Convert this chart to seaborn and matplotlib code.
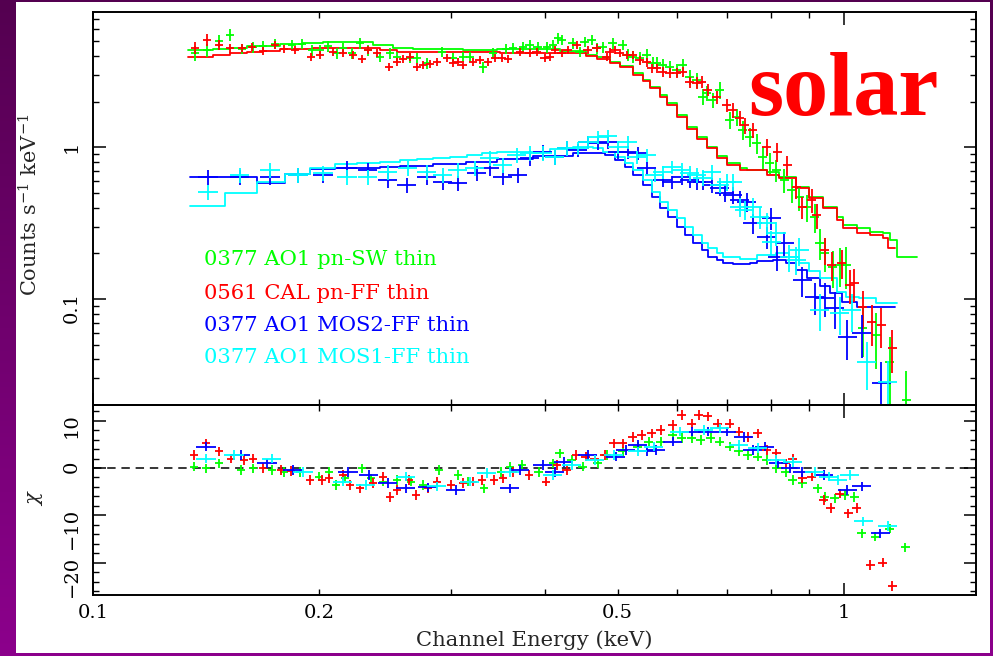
import numpy as np
import pandas as pd
import matplotlib
matplotlib.use("Agg")
import matplotlib.pyplot as plt
import seaborn as sns
from matplotlib.colors import LinearSegmentedColormap
from matplotlib.patches import Rectangle
from matplotlib.ticker import FixedLocator, MultipleLocator, FixedFormatter, NullFormatter

# ------------------------------------------------------------------ data
labels = ["0377 AO1 pn-SW thin", "0561 CAL pn-FF thin",
          "0377 AO1 MOS2-FF thin", "0377 AO1 MOS1-FF thin"]
colors = ["#00ff00", "#ff0000", "#0000ff", "#00ffff"]

# green: 0377 AO1 pn-SW (energy keV, counts/s/keV, relative error)
green_E = [0.1367, 0.1419, 0.1472, 0.1522, 0.1579, 0.1633, 0.1684, 0.1747, 0.1841, 0.1898,
           0.1957, 0.2006, 0.2056, 0.2113, 0.2152, 0.2213, 0.2267, 0.2323, 0.2411, 0.2486,
           0.2540, 0.2643, 0.2700, 0.2784, 0.2915, 0.3015, 0.3109, 0.3177, 0.3306, 0.3409,
           0.3550, 0.3625, 0.3738, 0.3818, 0.3913, 0.4023, 0.4098, 0.4161, 0.4212, 0.4356,
           0.4451, 0.4519, 0.4617, 0.4688, 0.4775, 0.4924, 0.5078, 0.5157, 0.5236, 0.5350,
           0.5466, 0.5568, 0.5636, 0.5741, 0.5866, 0.5993, 0.6104, 0.6236, 0.6372, 0.6490,
           0.6570, 0.6692, 0.6837, 0.7050, 0.7203, 0.7336, 0.7495, 0.7658, 0.7799, 0.7969,
           0.8141, 0.8342, 0.8525, 0.8736, 0.8926, 0.9148, 0.9290, 0.9434, 0.9668, 0.9879,
           1.009, 1.060, 1.106, 1.152, 1.213]
green_C = [4.18, 4.38, 5.02, 5.50, 4.45, 4.58, 4.65, 4.80, 4.73, 4.80,
           4.38, 4.38, 4.65, 4.18, 4.51, 4.18, 4.87, 4.38, 3.94, 4.18,
           3.94, 3.88, 3.88, 3.59, 4.25, 3.88, 3.94, 3.94, 3.38, 4.18,
           4.45, 4.51, 4.58, 4.73, 4.58, 4.58, 4.73, 5.25, 5.10, 4.87,
           4.25, 4.95, 5.10, 4.51, 4.58, 4.87, 4.73, 4.06, 3.94, 3.88,
           4.06, 3.59, 3.59, 3.49, 3.38, 3.23, 3.49, 2.91, 2.78, 2.15,
           2.28, 2.05, 2.39, 1.51, 1.58, 1.30, 1.17, 1.07, 0.863, 0.788,
           0.708, 0.609, 0.523, 0.470, 0.404, 0.347, 0.234, 0.201, 0.163, 0.168,
           0.168, 0.0644, 0.0579, 0.0384, 0.0216]
green_err = [0.11, 0.10, 0.09, 0.09, 0.08, 0.08, 0.08, 0.08, 0.08, 0.08,
             0.08, 0.08, 0.08, 0.08, 0.08, 0.08, 0.08, 0.08, 0.08, 0.08,
             0.08, 0.08, 0.08, 0.08, 0.08, 0.08, 0.08, 0.08, 0.08, 0.08,
             0.08, 0.08, 0.08, 0.08, 0.08, 0.08, 0.08, 0.08, 0.08, 0.08,
             0.08, 0.08, 0.08, 0.08, 0.08, 0.08, 0.08, 0.09, 0.09, 0.09,
             0.09, 0.09, 0.09, 0.10, 0.10, 0.10, 0.10, 0.11, 0.11, 0.12,
             0.12, 0.12, 0.13, 0.13, 0.13, 0.14, 0.14, 0.15, 0.16, 0.16,
             0.17, 0.18, 0.18, 0.19, 0.20, 0.21, 0.23, 0.25, 0.27, 0.29,
             0.31, 0.36, 0.40, 0.47, 0.55]

# red: 0561 CAL pn-FF
red_E = [0.1367, 0.1419, 0.1472, 0.1522, 0.1579, 0.1628, 0.1684, 0.1747, 0.1796, 0.1858,
         0.1951, 0.2006, 0.2087, 0.2152, 0.2219, 0.2281, 0.2323, 0.2389, 0.2478, 0.2540,
         0.2587, 0.2643, 0.2700, 0.2750, 0.2810, 0.2871, 0.2960, 0.3015, 0.3062, 0.3109,
         0.3206, 0.3275, 0.3357, 0.3430, 0.3505, 0.3570, 0.3704, 0.3818, 0.3901, 0.3998,
         0.4060, 0.4123, 0.4212, 0.4290, 0.4410, 0.4561, 0.4688, 0.4834, 0.4879, 0.4955,
         0.5031, 0.5141, 0.5236, 0.5350, 0.5466, 0.5551, 0.5636, 0.5741, 0.5866, 0.5993,
         0.6104, 0.6236, 0.6372, 0.6470, 0.6590, 0.6774, 0.6985, 0.7115, 0.7269, 0.7382,
         0.7564, 0.7896, 0.8166, 0.8420, 0.8656, 0.8817, 0.9064, 0.9204, 0.9434, 0.9638,
         0.9939, 1.019, 1.034, 1.060, 1.090, 1.123, 1.162]
red_C = [4.51, 5.10, 4.73, 4.51, 4.51, 4.58, 4.31, 4.73, 4.45, 4.38,
         3.94, 4.06, 4.25, 4.18, 4.06, 3.82, 4.38, 4.18, 3.38, 3.65,
         3.82, 3.94, 3.38, 3.49, 3.54, 3.65, 3.88, 3.59, 3.65, 3.49,
         3.65, 3.76, 3.65, 3.88, 3.88, 3.82, 4.25, 4.18, 4.25, 3.88,
         3.94, 4.38, 4.18, 4.38, 4.73, 4.38, 4.51, 3.94, 4.25, 4.38,
         4.18, 4.06, 4.06, 3.76, 3.65, 3.33, 3.33, 3.14, 3.09, 3.09,
         3.14, 2.69, 2.65, 2.69, 2.39, 2.15, 1.90, 1.76, 1.56, 1.40,
         1.30, 1.00, 0.931, 0.764, 0.547, 0.404, 0.449, 0.358, 0.210, 0.168,
         0.173, 0.124, 0.127, 0.0886, 0.0705, 0.0674, 0.0475]
red_err = [0.09, 0.09, 0.08, 0.07, 0.06, 0.06, 0.06, 0.06, 0.06, 0.06,
           0.06, 0.06, 0.06, 0.06, 0.06, 0.06, 0.06, 0.06, 0.06, 0.06,
           0.06, 0.06, 0.06, 0.06, 0.06, 0.06, 0.06, 0.06, 0.06, 0.06,
           0.06, 0.06, 0.06, 0.06, 0.06, 0.06, 0.06, 0.06, 0.06, 0.06,
           0.06, 0.06, 0.06, 0.06, 0.06, 0.06, 0.06, 0.06, 0.06, 0.06,
           0.06, 0.06, 0.06, 0.07, 0.07, 0.07, 0.07, 0.07, 0.08, 0.08,
           0.08, 0.08, 0.09, 0.09, 0.09, 0.10, 0.10, 0.11, 0.11, 0.12,
           0.12, 0.13, 0.14, 0.15, 0.16, 0.17, 0.18, 0.19, 0.20, 0.22,
           0.22, 0.25, 0.25, 0.28, 0.30, 0.30, 0.32]

# blue: 0377 AO1 MOS2-FF
blue_E = [0.1423, 0.1569, 0.1721, 0.1875, 0.2025, 0.2179, 0.2323, 0.2470, 0.2619, 0.2784,
          0.2924, 0.3062, 0.3245, 0.3378, 0.3515, 0.3681, 0.3818, 0.3974, 0.4123, 0.4277,
          0.4423, 0.4561, 0.4702, 0.4849, 0.5000, 0.5157, 0.5317, 0.5466, 0.5741, 0.5902,
          0.6085, 0.6236, 0.6372, 0.6490, 0.6671, 0.6837, 0.6942, 0.7115, 0.7269, 0.7427,
          0.7564, 0.7896, 0.8017, 0.8166, 0.8342, 0.8817, 0.9148, 0.9434, 0.9727, 1.012,
          1.057, 1.123]
blue_C = [0.637, 0.637, 0.637, 0.657, 0.657, 0.730, 0.708, 0.609, 0.564, 0.637,
          0.590, 0.582, 0.677, 0.730, 0.637, 0.657, 0.850, 0.931, 0.863, 0.989,
          0.960, 1.08, 1.07, 1.08, 0.931, 0.931, 0.917, 0.730, 0.609, 0.590,
          0.637, 0.609, 0.590, 0.590, 0.564, 0.539, 0.500, 0.485, 0.449, 0.436,
          0.317, 0.256, 0.342, 0.189, 0.234, 0.133, 0.103, 0.102, 0.0873, 0.0562,
          0.0597, 0.0279]
blue_err = [0.12, 0.12, 0.12, 0.12, 0.12, 0.12, 0.12, 0.12, 0.12, 0.12,
            0.11, 0.11, 0.11, 0.11, 0.11, 0.11, 0.11, 0.11, 0.11, 0.11,
            0.10, 0.10, 0.10, 0.10, 0.10, 0.10, 0.10, 0.10, 0.10, 0.10,
            0.11, 0.11, 0.11, 0.12, 0.12, 0.12, 0.13, 0.13, 0.14, 0.14,
            0.15, 0.17, 0.17, 0.19, 0.19, 0.22, 0.24, 0.25, 0.27, 0.30,
            0.32, 0.38]

# cyan: 0377 AO1 MOS1-FF
cyan_E = [0.1423, 0.1569, 0.1721, 0.1875, 0.2025, 0.2179, 0.2323, 0.2470, 0.2627, 0.2784,
          0.2924, 0.3062, 0.3226, 0.3378, 0.3515, 0.3670, 0.3818, 0.3974, 0.4123, 0.4277,
          0.4423, 0.4561, 0.4702, 0.4849, 0.5000, 0.5157, 0.5301, 0.5466, 0.5602, 0.5741,
          0.5902, 0.6085, 0.6236, 0.6372, 0.6490, 0.6671, 0.6837, 0.6985, 0.7115, 0.7269,
          0.7382, 0.7564, 0.7728, 0.7896, 0.8017, 0.8141, 0.8472, 0.8656, 0.8736, 0.9290,
          0.9879, 1.025, 1.073, 1.145]
cyan_C = [0.507, 0.657, 0.708, 0.657, 0.677, 0.637, 0.637, 0.687, 0.730, 0.687,
          0.657, 0.708, 0.730, 0.850, 0.764, 0.890, 0.917, 0.917, 0.863, 0.989,
          0.989, 1.08, 1.17, 1.19, 1.00, 1.08, 0.863, 0.890, 0.657, 0.687,
          0.742, 0.708, 0.677, 0.657, 0.628, 0.687, 0.564, 0.590, 0.590, 0.404,
          0.386, 0.404, 0.347, 0.317, 0.237, 0.272, 0.189, 0.181, 0.210, 0.0846,
          0.0809, 0.0846, 0.0384, 0.0284]
cyan_err = [0.12, 0.12, 0.12, 0.12, 0.12, 0.12, 0.12, 0.12, 0.12, 0.12,
            0.11, 0.11, 0.11, 0.11, 0.11, 0.11, 0.11, 0.11, 0.11, 0.11,
            0.10, 0.10, 0.10, 0.10, 0.10, 0.10, 0.10, 0.10, 0.10, 0.10,
            0.10, 0.11, 0.11, 0.11, 0.12, 0.12, 0.12, 0.13, 0.13, 0.14,
            0.14, 0.15, 0.16, 0.17, 0.18, 0.18, 0.20, 0.21, 0.21, 0.27,
            0.28, 0.28, 0.35, 0.38]

# bin half-widths (fraction of energy)
pn_bin_frac = 0.013
mos_bin_frac = 0.03

# folded model step curves (left bin edges, value)
green_mod_E = [0.1338, 0.1445, 0.1522, 0.1604, 0.1774, 0.1904, 0.2025, 0.2246, 0.2359, 0.2509,
               0.2668, 0.2898, 0.3109, 0.3451, 0.4186, 0.4533, 0.4688, 0.4879, 0.5031, 0.5236,
               0.5400, 0.5517, 0.5689, 0.5812, 0.5993, 0.6179, 0.6372, 0.6570, 0.6774, 0.6985,
               0.7269, 0.7427, 0.7896, 0.8216, 0.8656, 0.9008, 0.9376, 0.9788, 0.9969, 1.041,
               1.083, 1.127, 1.152, 1.177, 1.251]
green_mod_C = [4.38, 4.45, 4.53, 4.67, 4.77, 4.85, 4.92, 4.97, 4.73, 4.53,
               4.45, 4.45, 4.38, 4.45, 4.33, 4.06, 3.92, 3.67, 3.44, 3.07,
               2.78, 2.51, 2.21, 1.95, 1.63, 1.37, 1.17, 1.01, 0.876, 0.784,
               0.727, 0.708, 0.690, 0.640, 0.550, 0.472, 0.406, 0.348, 0.307, 0.292,
               0.278, 0.271, 0.245, 0.190, 0.190]
red_mod_E = [0.1338, 0.1445, 0.1522, 0.1604, 0.1684, 0.1774, 0.1963, 0.2411, 0.2540, 0.2668,
             0.3483, 0.4277, 0.4533, 0.4688, 0.4879, 0.5031, 0.5236, 0.5400, 0.5517, 0.5689,
             0.5812, 0.5993, 0.6179, 0.6372, 0.6570, 0.6774, 0.6985, 0.7269, 0.7896, 0.8216,
             0.8656, 0.9008, 0.9376, 0.9788, 0.9969, 1.041, 1.083, 1.127, 1.145, 1.170]
red_mod_C = [3.96, 4.06, 4.16, 4.22, 4.31, 4.45, 4.49, 4.38, 4.27, 4.22,
             4.16, 4.16, 4.00, 3.85, 3.58, 3.36, 3.00, 2.72, 2.45, 2.16,
             1.90, 1.59, 1.33, 1.14, 0.985, 0.850, 0.765, 0.708, 0.657, 0.624,
             0.537, 0.461, 0.396, 0.332, 0.293, 0.271, 0.264, 0.251, 0.216, 0.216]
blue_mod_E = [0.1346, 0.1653, 0.1802, 0.1945, 0.2100, 0.2411, 0.2563, 0.2836, 0.3138, 0.3451,
              0.3854, 0.4356, 0.4805, 0.4955, 0.5110, 0.5236, 0.5400, 0.5551, 0.5689, 0.5830,
              0.5993, 0.6142, 0.6294, 0.6470, 0.6590, 0.6774, 0.6900, 0.7115, 0.7495, 0.7658,
              0.8042, 0.8394, 0.8656, 0.8926, 0.9290, 0.9581, 0.9939, 1.041, 1.170]
blue_mod_C = [0.640, 0.584, 0.664, 0.716, 0.734, 0.745, 0.756, 0.772, 0.803, 0.837,
              0.876, 0.921, 0.890, 0.825, 0.745, 0.657, 0.564, 0.472, 0.396, 0.349,
              0.300, 0.264, 0.233, 0.210, 0.189, 0.181, 0.174, 0.170, 0.174, 0.179,
              0.181, 0.172, 0.155, 0.137, 0.121, 0.109, 0.096, 0.089, 0.089]
cyan_mod_E = [0.1346, 0.1499, 0.1653, 0.1802, 0.1945, 0.2100, 0.2246, 0.2411, 0.2563, 0.2700,
              0.2836, 0.2988, 0.3148, 0.3296, 0.3451, 0.3670, 0.4060, 0.4356, 0.4631, 0.4775,
              0.4955, 0.5110, 0.5236, 0.5400, 0.5551, 0.5689, 0.5830, 0.5993, 0.6142, 0.6294,
              0.6470, 0.6590, 0.6774, 0.6900, 0.7269, 0.7658, 0.8141, 0.8472, 0.8736, 0.9008,
              0.9290, 0.9788, 1.009, 1.050, 1.106, 1.180]
cyan_mod_C = [0.410, 0.502, 0.593, 0.664, 0.734, 0.772, 0.784, 0.803, 0.825, 0.837,
              0.846, 0.867, 0.890, 0.913, 0.927, 0.936, 0.970, 1.01, 0.994, 0.935,
              0.867, 0.784, 0.708, 0.609, 0.510, 0.438, 0.386, 0.340, 0.300, 0.264,
              0.233, 0.216, 0.200, 0.190, 0.183, 0.195, 0.200, 0.190, 0.172, 0.152,
              0.137, 0.112, 0.103, 0.101, 0.094, 0.094]

# residuals chi
green_res_E = [0.1363, 0.1414, 0.1472, 0.1574, 0.1633, 0.1731, 0.1796, 0.1887, 0.2000, 0.2063,
               0.2106, 0.2166, 0.2281, 0.2345, 0.2433, 0.2540, 0.2651, 0.2750, 0.2889, 0.3062,
               0.3157, 0.3316, 0.3494, 0.3592, 0.3726, 0.3925, 0.4098, 0.4186, 0.4343, 0.4492,
               0.4702, 0.4834, 0.5078, 0.5317, 0.5500, 0.5706, 0.5920, 0.6085, 0.6275, 0.6450,
               0.6651, 0.6837, 0.7050, 0.7247, 0.7450, 0.7681, 0.7896, 0.8141, 0.8369, 0.8551,
               0.8817, 0.9233, 0.9434, 0.9727, 1.003, 1.034, 1.057, 1.103, 1.152, 1.209]
green_res = [0.3, -0.1, 1.0, -0.4, -0.1, -0.4, -0.8, -0.8, -1.8, -0.8,
             -3.6, -2.2, -0.1, -2.2, -2.9, -2.5, -2.9, -3.6, -0.4, -1.5,
             -2.9, -4.3, -0.8, 0.3, 0.6, -0.8, 1.0, 3.1, 1.7, 0.3,
             1.0, 2.7, 3.5, 4.5, 5.6, 5.6, 7.0, 6.3, 6.3, 5.9,
             6.3, 5.6, 4.5, 3.5, 2.7, 2.4, 1.7, -0.1, -0.8, -2.5,
             -3.2, -4.3, -6.1, -6.4, -5.7, -6.1, -13.8, -14.5, -12.8, -16.8]
red_res_E = [0.1363, 0.1414, 0.1472, 0.1527, 0.1589, 0.1633, 0.1684, 0.1780, 0.1835, 0.1945,
             0.2018, 0.2063, 0.2152, 0.2199, 0.2267, 0.2359, 0.2433, 0.2486, 0.2540, 0.2635,
             0.2692, 0.2793, 0.2871, 0.2997, 0.3109, 0.3206, 0.3296, 0.3420, 0.3515, 0.3625,
             0.3807, 0.4011, 0.4148, 0.4277, 0.4397, 0.4533, 0.4659, 0.4805, 0.4939, 0.5078,
             0.5236, 0.5383, 0.5551, 0.5706, 0.5920, 0.6085, 0.6275, 0.6411, 0.6590, 0.6795,
             0.7050, 0.7247, 0.7450, 0.7681, 0.7896, 0.8141, 0.8369, 0.8551, 0.8817, 0.9064,
             0.9406, 0.9610, 0.9879, 1.015, 1.041, 1.086, 1.127, 1.162]
red_res = [2.7, 5.2, 3.5, 2.0, 1.7, 2.0, 0.0, -0.4, -0.6, -2.5,
           -2.5, -2.2, -1.5, -3.6, -4.3, -3.2, -1.8, -6.1, -4.7, -2.5,
           -5.7, -4.3, -2.9, -3.6, -3.2, -2.9, -2.5, -2.5, -2.2, -0.8,
           -1.5, -2.9, 0.6, -0.4, 2.7, 2.4, 2.0, 2.7, 5.2, 5.2,
           6.6, 7.0, 7.3, 8.0, 9.1, 11.2, 9.4, 11.2, 10.9, 9.4,
           9.4, 7.7, 6.6, 7.3, 3.8, 3.1, 1.0, 2.0, -2.2, -1.8,
           -6.8, -8.5, -5.4, -9.6, -8.5, -20.5, -20.0, -24.9]
blue_res_E = [0.1414, 0.1574, 0.1705, 0.1846, 0.2186, 0.2331, 0.2470, 0.2611, 0.2793, 0.3043,
              0.3592, 0.3704, 0.3974, 0.4123, 0.4238, 0.4561, 0.4970, 0.5125, 0.5317, 0.5466,
              0.5619, 0.5920, 0.6275, 0.6590, 0.6985, 0.7359, 0.7564, 0.7847, 0.8190, 0.8498,
              0.8817, 0.9406, 1.012, 1.057, 1.120]
blue_res = [4.5, 2.7, 1.0, -0.4, -0.8, -1.5, -3.2, -4.3, -4.1, -4.7,
            -4.3, -0.4, 0.6, -0.8, 1.3, 2.7, 2.4, 3.8, 4.9, 3.5,
            3.8, 5.6, 7.7, 7.7, 7.7, 6.6, 3.8, 4.5, 1.0, -0.1,
            -0.8, -1.5, -4.7, -3.9, -13.8]
cyan_res_E = [0.1414, 0.1541, 0.1731, 0.1904, 0.2152, 0.2309, 0.2611, 0.2871, 0.3177, 0.3346,
              0.3592, 0.4098, 0.4343, 0.4659, 0.4939, 0.5317, 0.5585, 0.6048, 0.6510, 0.6837,
              0.7247, 0.7681, 0.8141, 0.8551, 0.9148, 0.9550, 0.9817, 1.019, 1.063, 1.145]
cyan_res = [2.0, 2.7, 2.0, -0.8, -2.9, -3.6, -1.8, -3.9, -2.9, -1.1,
            -0.8, -1.5, 0.6, 1.7, 2.7, 3.5, 4.5, 7.7, 8.0, 8.4,
            4.9, 4.2, 1.7, 1.3, -0.8, -1.8, -2.5, -1.5, -11.3, -12.3]

x_ticks_major = [0.1, 1.0]
x_ticks_minor = [0.2, 0.3, 0.4, 0.5, 0.6, 0.7, 0.8, 0.9]
x_major_labels = ["0.1", "1"]
x_minor_labels = ["0.2", "", "", "0.5", "", "", "", ""]
y_ticks_major = [0.1, 1.0]
y_major_labels = ["0.1", "1"]
y_ticks_minor = [0.03, 0.04, 0.05, 0.06, 0.07, 0.08, 0.09,
                 0.2, 0.3, 0.4, 0.5, 0.6, 0.7, 0.8, 0.9, 2, 3, 4, 5, 6, 7]

# ------------------------------------------------------------------ style
sns.set_theme(style="ticks")
plt.rcParams["font.family"] = ["DejaVu Serif", "DejaVu Sans"]
plt.rcParams["mathtext.fontset"] = "dejavuserif"
plt.rcParams["axes.unicode_minus"] = True

W, H = 993, 656
fig = plt.figure(figsize=(W / 100, H / 100), dpi=100)

# purple frame with white page
bg = fig.add_axes([0, 0, 1, 1], zorder=-10)
grad = np.linspace(0, 1, 256).reshape(-1, 1)
cmap = LinearSegmentedColormap.from_list("frame", ["#540050", "#8c008c"])
bg.imshow(grad, aspect="auto", cmap=cmap, extent=[0, 1, 0, 1], origin="upper")
bg.add_patch(Rectangle((16 / W, 3 / H), (990 - 16) / W, (654 - 3) / H,
                       facecolor="white", edgecolor="none"))
bg.set_xlim(0, 1)
bg.set_ylim(0, 1)
bg.axis("off")

L, R = 93 / W, 975.7 / W
ax1 = fig.add_axes([L, 1 - 404.7 / H, R - L, (404.7 - 12) / H])
ax2 = fig.add_axes([L, 1 - 595 / H, R - L, (595 - 404.7) / H])
for ax in (ax1, ax2):
    ax.set_facecolor("none")
    ax.set_xscale("log")
ax1.set_yscale("log")

datasets = [
    (green_E, green_C, green_err, pn_bin_frac, green_mod_E, green_mod_C, green_res_E, green_res),
    (red_E, red_C, red_err, pn_bin_frac, red_mod_E, red_mod_C, red_res_E, red_res),
    (blue_E, blue_C, blue_err, mos_bin_frac, blue_mod_E, blue_mod_C, blue_res_E, blue_res),
    (cyan_E, cyan_C, cyan_err, mos_bin_frac, cyan_mod_E, cyan_mod_C, cyan_res_E, cyan_res),
]

# models (step curves) via seaborn
for (E, C, err, frac, mE, mC, rE, rv), col in zip(datasets, colors):
    dfm = pd.DataFrame({"E": mE, "C": mC})
    sns.lineplot(data=dfm, x="E", y="C", ax=ax1, color=col, drawstyle="steps-post",
                 linewidth=1.3, estimator=None, sort=False, legend=False, zorder=2)

# data crosses and residuals
for (E, C, err, frac, mE, mC, rE, rv), col in zip(datasets, colors):
    E = np.asarray(E); C = np.asarray(C); err = np.asarray(err)
    xerr = [E - E / (1 + frac), E * frac]
    ax1.errorbar(E, C, xerr=xerr, yerr=C * err, fmt="none", ecolor=col,
                 elinewidth=1.3, capsize=0, zorder=3)
    rE = np.asarray(rE); rv = np.asarray(rv)
    rxerr = [rE - rE / (1 + frac), rE * frac]
    ax2.errorbar(rE, rv, xerr=rxerr, yerr=np.ones_like(rv), fmt="none", ecolor=col,
                 elinewidth=1.3, capsize=0, zorder=3)

ax2.axhline(0, color="black", lw=1.1, ls=(0, (5.5, 3.8)), zorder=1)

# limits / ticks
for ax in (ax1, ax2):
    ax.set_xlim(0.1, 1.5)
    ax.xaxis.set_major_locator(FixedLocator(x_ticks_major))
    ax.xaxis.set_minor_locator(FixedLocator(x_ticks_minor))
    ax.tick_params(which="both", direction="in", top=True, right=True,
                   color="black", labelcolor="black", labelsize=14)
    ax.tick_params(which="major", length=9, width=1.1)
    ax.tick_params(which="minor", length=4.5, width=1.0)
    for s in ax.spines.values():
        s.set_linewidth(1.4)
        s.set_color("black")
    ax.grid(False)

ax1.set_ylim(0.0201, 7.8)
ax1.yaxis.set_major_locator(FixedLocator(y_ticks_major))
ax1.yaxis.set_major_formatter(FixedFormatter(y_major_labels))
ax1.yaxis.set_minor_locator(FixedLocator(y_ticks_minor))
ax1.yaxis.set_minor_formatter(NullFormatter())
ax1.tick_params(axis="x", which="both", labelbottom=False)
ax1.tick_params(axis="y", which="both", labelrotation=90, pad=9)

ax2.set_ylim(-26.85, 13.38)
ax2.yaxis.set_major_locator(MultipleLocator(10))
ax2.yaxis.set_minor_locator(MultipleLocator(2))
ax2.xaxis.set_major_formatter(FixedFormatter(x_major_labels))
ax2.xaxis.set_minor_formatter(FixedFormatter(x_minor_labels))
ax2.tick_params(axis="y", which="both", labelrotation=90, pad=9)
ax2.tick_params(axis="x", which="both", pad=6.5)

# labels
ax1.set_xlabel("")
ax1.set_ylabel(r"Counts s$^{-1}$ keV$^{-1}$", fontsize=15)
ax1.yaxis.set_label_coords(-0.072, 0.51)
ax1.yaxis.label.set_va("center")
ax2.set_ylabel(r"$\chi$", fontsize=15)
ax2.yaxis.set_label_coords(-0.065, 0.51)
ax2.yaxis.label.set_va("center")
ax2.set_xlabel("Channel Energy (keV)", fontsize=15.2)
ax2.xaxis.set_label_coords(0.5, -0.235)
ax2.xaxis.label.set_va("center")

legend_y = [0.3557, 0.2699, 0.1877, 0.1054]
for lab, col, yy in zip(labels, colors, legend_y):
    ax1.text(0.1258, yy, lab, color=col, fontsize=15.2, transform=ax1.transAxes,
             ha="left", va="baseline")

ax1.text(0.742, 0.7377, "solar", color="#ff0000", fontsize=65, fontweight="bold",
         family=["Liberation Serif", "DejaVu Serif"], transform=ax1.transAxes,
         ha="left", va="baseline")

fig.savefig("out.png", dpi=100)
